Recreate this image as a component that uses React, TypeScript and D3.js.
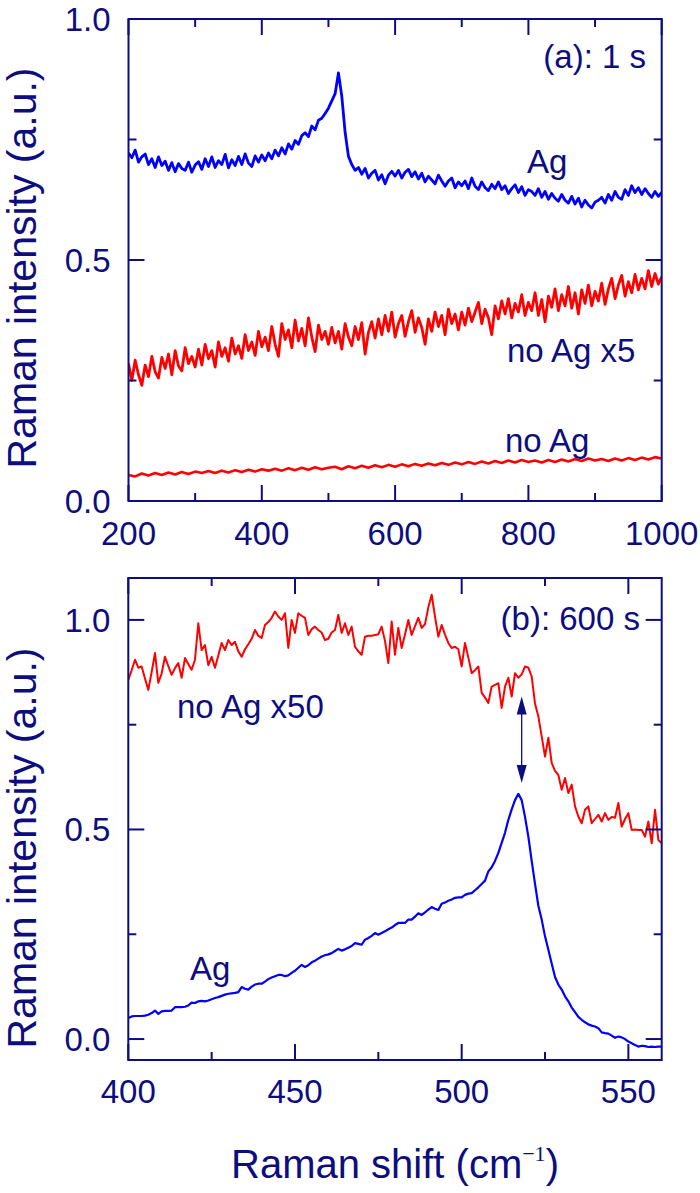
import React from "react";
import * as d3 from "d3";

// ---------- DATA ----------
// Panel (a): 1 s acquisition, Raman shift 200..1000 cm-1
const shiftA = d3.range(200, 1001, 5);
const agA = [
  0.722, 0.712, 0.728, 0.703, 0.714, 0.720, 0.698, 0.710, 0.692, 0.714, 0.696, 0.705, 0.686, 0.702, 0.683, 0.700, 0.690, 0.686, 0.703, 0.682, 0.697,
  0.704, 0.688, 0.710, 0.694, 0.714, 0.692, 0.706, 0.698, 0.719, 0.691, 0.708, 0.696, 0.715, 0.698, 0.720, 0.701, 0.694, 0.716, 0.703, 0.718,
  0.706, 0.722, 0.710, 0.728, 0.716, 0.733, 0.720, 0.741, 0.730, 0.748, 0.740, 0.758, 0.764, 0.756, 0.778, 0.770, 0.790, 0.794, 0.804, 0.815, 0.830,
  0.845, 0.888, 0.840, 0.765, 0.715, 0.698, 0.686,
  0.692, 0.678, 0.690, 0.670, 0.680, 0.686, 0.666, 0.677, 0.658, 0.676, 0.684, 0.674,
  0.686, 0.670, 0.682, 0.688, 0.673, 0.683, 0.668, 0.680, 0.662, 0.674, 0.666, 0.658, 0.676, 0.664, 0.653, 0.664, 0.670, 0.650, 0.662, 0.654,
  0.664, 0.648, 0.670, 0.653, 0.646, 0.662, 0.650, 0.644, 0.657, 0.648, 0.662, 0.646, 0.654, 0.638, 0.648, 0.656, 0.640, 0.652, 0.634, 0.646,
  0.642, 0.634, 0.648, 0.630, 0.642, 0.626, 0.638, 0.628, 0.622, 0.636, 0.624, 0.618, 0.632, 0.616, 0.628, 0.610, 0.624, 0.614, 0.608, 0.620,
  0.624, 0.630, 0.618, 0.636, 0.624, 0.642, 0.630, 0.626, 0.646, 0.634, 0.654, 0.640, 0.650, 0.636, 0.648, 0.638, 0.630, 0.642, 0.632, 0.640,
];
const noAgX5A = [
  0.285, 0.250, 0.292, 0.262, 0.240, 0.282, 0.258, 0.300, 0.268, 0.255, 0.298, 0.275, 0.305, 0.262, 0.312, 0.280, 0.270, 0.318, 0.285, 0.300, 0.278,
  0.315, 0.282, 0.325, 0.295, 0.312, 0.278, 0.330, 0.300, 0.318, 0.290, 0.338, 0.305, 0.322, 0.296, 0.345, 0.312, 0.330, 0.302, 0.352, 0.320,
  0.340, 0.312, 0.362, 0.325, 0.300, 0.368, 0.335, 0.355, 0.318, 0.375, 0.332, 0.358, 0.322, 0.380, 0.340, 0.310, 0.365, 0.335, 0.352, 0.325,
  0.360, 0.328, 0.352, 0.315, 0.368, 0.340, 0.322, 0.362, 0.335, 0.370, 0.305, 0.350, 0.372, 0.338, 0.378, 0.345, 0.385, 0.352, 0.392, 0.340,
  0.368, 0.385, 0.342, 0.372, 0.395, 0.350, 0.380, 0.360, 0.325, 0.378, 0.352, 0.392, 0.362, 0.385, 0.345, 0.398, 0.368, 0.388, 0.355, 0.392,
  0.365, 0.400, 0.372, 0.392, 0.412, 0.368, 0.398, 0.380, 0.345, 0.405, 0.378, 0.415, 0.388, 0.420, 0.380, 0.410, 0.392, 0.428, 0.385, 0.412,
  0.395, 0.432, 0.385, 0.418, 0.372, 0.425, 0.402, 0.440, 0.395, 0.428, 0.405, 0.445, 0.400, 0.432, 0.388, 0.438, 0.410, 0.448, 0.405, 0.435,
  0.415, 0.452, 0.408, 0.440, 0.462, 0.420, 0.448, 0.468, 0.425, 0.455, 0.432, 0.470, 0.438, 0.462, 0.440, 0.478, 0.445, 0.472, 0.450, 0.465,
];
const shiftNoAgA = d3.range(200, 1001, 10);
const noAgA = [
  0.054, 0.051, 0.057, 0.053, 0.058, 0.054, 0.059, 0.055, 0.060, 0.056, 0.061,
  0.058, 0.062, 0.058, 0.063, 0.059, 0.064, 0.060, 0.065, 0.061, 0.066,
  0.063, 0.067, 0.063, 0.068, 0.064, 0.069, 0.065, 0.070, 0.066, 0.069,
  0.071, 0.066, 0.072, 0.068, 0.073, 0.069, 0.074, 0.070, 0.075, 0.071,
  0.076, 0.072, 0.077, 0.073, 0.078, 0.074, 0.079, 0.075, 0.080, 0.076,
  0.081, 0.077, 0.082, 0.078, 0.083, 0.079, 0.084, 0.080, 0.085, 0.081,
  0.084, 0.080, 0.085, 0.081, 0.086, 0.082, 0.087, 0.083, 0.088, 0.084,
  0.087, 0.083, 0.088, 0.084, 0.089, 0.085, 0.090, 0.086, 0.091, 0.088,
];

// Panel (b): 600 s acquisition, Raman shift 400..560 cm-1
const shiftB = d3.range(400, 561, 1);
const noAgX50B = [
  0.857, 0.880, 0.905, 0.886, 0.889, 0.860, 0.833, 0.875, 0.921, 0.850,
  0.872, 0.912, 0.890, 0.869, 0.885, 0.897, 0.862, 0.909, 0.895, 0.881,
  0.905, 0.992, 0.928, 0.940, 0.892, 0.912, 0.886, 0.915, 0.945, 0.928,
  0.952, 0.940, 0.948, 0.925, 0.912, 0.930, 0.942, 0.955, 0.976, 0.962,
  0.957, 0.988, 0.995, 1.005, 1.020, 1.008, 1.000, 1.016, 0.933, 1.000,
  0.969, 1.016, 1.010, 1.005, 0.964, 0.978, 0.984, 0.976, 0.970, 0.952,
  0.955, 0.970, 0.976, 1.012, 0.969, 0.992, 0.964, 0.984, 0.936, 0.925,
  0.917, 0.960, 0.962, 0.962, 0.964, 0.966, 0.984, 0.950, 0.897, 0.996,
  0.917, 0.981, 0.933, 0.965, 1.000, 0.964, 0.985, 1.005, 0.981, 0.990,
  1.030, 1.060, 1.008, 0.960, 0.988, 0.965, 0.945, 0.933, 0.936, 0.930,
  0.889, 0.945, 0.910, 0.873, 0.880, 0.889, 0.826, 0.815, 0.802, 0.841,
  0.845, 0.849, 0.790, 0.841, 0.862, 0.817, 0.873, 0.862, 0.870, 0.889,
  0.886, 0.865, 0.800, 0.770, 0.722, 0.674, 0.719, 0.659, 0.640, 0.630,
  0.595, 0.623, 0.587, 0.607, 0.555, 0.531, 0.515, 0.547, 0.555, 0.515,
  0.525, 0.535, 0.519, 0.539, 0.523, 0.530, 0.528, 0.563, 0.507, 0.525,
  0.539, 0.499, 0.500, 0.499, 0.499, 0.483, 0.519, 0.467, 0.547, 0.475,
  0.467,
];
const agB = [
  0.050, 0.054, 0.055, 0.055, 0.055, 0.056, 0.058, 0.062, 0.068, 0.060,
  0.066, 0.067, 0.067, 0.068, 0.076, 0.076, 0.076, 0.077, 0.080, 0.087,
  0.086, 0.090, 0.091, 0.090, 0.092, 0.095, 0.098, 0.100, 0.103, 0.106,
  0.108, 0.109, 0.110, 0.112, 0.124, 0.120, 0.118, 0.125, 0.130, 0.132,
  0.132, 0.137, 0.143, 0.147, 0.150, 0.153, 0.153, 0.150, 0.152, 0.158,
  0.163, 0.170, 0.177, 0.172, 0.176, 0.183, 0.187, 0.192, 0.197, 0.200,
  0.202, 0.205, 0.210, 0.215, 0.211, 0.214, 0.218, 0.222, 0.229, 0.227,
  0.225, 0.237, 0.241, 0.246, 0.253, 0.249, 0.253, 0.257, 0.262, 0.266,
  0.272, 0.277, 0.277, 0.277, 0.285, 0.285, 0.292, 0.300, 0.296, 0.302,
  0.309, 0.315, 0.311, 0.308, 0.323, 0.326, 0.330, 0.333, 0.337, 0.338,
  0.338, 0.344, 0.347, 0.348, 0.355, 0.362, 0.370, 0.378, 0.400, 0.410,
  0.425, 0.444, 0.468, 0.492, 0.523, 0.548, 0.570, 0.585, 0.570, 0.530,
  0.483, 0.425, 0.370, 0.318, 0.285, 0.245, 0.213, 0.180, 0.148, 0.130,
  0.118, 0.102, 0.090, 0.075, 0.064, 0.053, 0.046, 0.040, 0.035, 0.032,
  0.030, 0.026, 0.016, 0.014, 0.013, 0.008, 0.003, 0.006, 0.004, 0.000,
  -0.006, -0.010, -0.014, -0.018, -0.016, -0.017, -0.019, -0.018, -0.019, -0.018,
  -0.018,
];

// Ticks
const xMajorA = [200, 400, 600, 800, 1000];
const xMinorA = [300, 500, 700, 900];
const yMajorA = [0, 0.5, 1.0];
const yMinorA = [0.25, 0.75];
const xMajorB = [400, 450, 500, 550];
const xMinorB = [425, 475, 525];
const yMajorB = [0, 0.5, 1.0];
const yMinorB = [0.25, 0.75];

// Arrow marking the peak (panel b)
const arrowShift = 518;
const arrowTop = 0.817;
const arrowBottom = 0.611;

// ---------- STYLE ----------
const NAVY = "#0d0d80";
const BLUE = "#0000ff";
const RED = "#ff0000";
const FONT = "'Liberation Sans', Arial, Helvetica, sans-serif";

type Pt = [number, number];
const zip = (xs: number[], ys: number[]): Pt[] =>
  ys.slice(0, Math.min(xs.length, ys.length)).map((v, i) => [xs[i], v] as Pt);

function Frame({ x, y, xMajor, xMinor, yMajor, yMinor, labelDy }: any) {
  const [x0, x1] = x.range();
  const [y0, y1] = y.range(); // y0 bottom, y1 top
  const MAJ = 16;
  const MIN = 8;
  const fmtY = d3.format(".1f");
  return (
    <g>
      {xMajor.map((t: number) => (
        <g key={"xM" + t}>
          <line x1={x(t)} x2={x(t)} y1={y0} y2={y0 - MAJ} stroke={NAVY} strokeWidth={2} />
          <line x1={x(t)} x2={x(t)} y1={y1} y2={y1 + MAJ} stroke={NAVY} strokeWidth={2} />
          <text x={x(t)} y={y0 + labelDy} textAnchor="middle" fontSize={33} fill={NAVY} fontFamily={FONT}>
            {String(t)}
          </text>
        </g>
      ))}
      {xMinor.map((t: number) => (
        <g key={"xm" + t}>
          <line x1={x(t)} x2={x(t)} y1={y0} y2={y0 - MIN} stroke={NAVY} strokeWidth={2} />
          <line x1={x(t)} x2={x(t)} y1={y1} y2={y1 + MIN} stroke={NAVY} strokeWidth={2} />
        </g>
      ))}
      {yMajor.map((t: number) => (
        <g key={"yM" + t}>
          <line x1={x0} x2={x0 + MAJ} y1={y(t)} y2={y(t)} stroke={NAVY} strokeWidth={2} />
          <line x1={x1} x2={x1 - MAJ} y1={y(t)} y2={y(t)} stroke={NAVY} strokeWidth={2} />
          <text x={x0 - 18} y={y(t)} dy="0.36em" textAnchor="end" fontSize={33} fill={NAVY} fontFamily={FONT}>
            {fmtY(t)}
          </text>
        </g>
      ))}
      {yMinor.map((t: number) => (
        <g key={"ym" + t}>
          <line x1={x0} x2={x0 + MIN} y1={y(t)} y2={y(t)} stroke={NAVY} strokeWidth={2} />
          <line x1={x1} x2={x1 - MIN} y1={y(t)} y2={y(t)} stroke={NAVY} strokeWidth={2} />
        </g>
      ))}
      <rect x={x0} y={y1} width={x1 - x0} height={y0 - y1} fill="none" stroke={NAVY} strokeWidth={2} />
    </g>
  );
}

export default function App() {
  const W = 700;
  const H = 1193;

  // Panel (a)
  const xA = d3.scaleLinear().domain([200, 1000]).range([128.5, 661.7]);
  const yA = d3.scaleLinear().domain([0, 1]).range([501, 19]);
  const lineA = d3.line<Pt>().x((d) => xA(d[0])).y((d) => yA(d[1]));

  // Panel (b)
  const xB = d3.scaleLinear().domain([400, 560]).range([128.3, 661.7]);
  const yB = d3.scaleLinear().domain([-0.05, 1.1]).range([1060, 578]);
  const lineB = d3.line<Pt>().x((d) => xB(d[0])).y((d) => yB(d[1]));

  const ax = xB(arrowShift);
  const aTop = yB(arrowTop);
  const aBot = yB(arrowBottom);
  const HL = 18;
  const HW = 5;

  return (
    <svg
      width={W}
      height={H}
      viewBox={`0 0 ${W} ${H}`}
      style={{ position: "absolute", left: 0, top: 0, background: "#fff" }}
      fontFamily={FONT}
    >
      <defs>
        <clipPath id="clipA">
          <rect x={128.5} y={19} width={661.7 - 128.5} height={501 - 19} />
        </clipPath>
        <clipPath id="clipB">
          <rect x={128.3} y={578} width={661.7 - 128.3} height={1060 - 578} />
        </clipPath>
      </defs>
      <rect x={0} y={0} width={W} height={H} fill="#fff" />

      {/* Panel (a) data */}
      <g clipPath="url(#clipA)">
        <path d={lineA(zip(shiftNoAgA, noAgA)) || ""} fill="none" stroke={RED} strokeWidth={2.6} strokeLinejoin="round" />
        <path d={lineA(zip(shiftA, noAgX5A)) || ""} fill="none" stroke={RED} strokeWidth={2.8} strokeLinejoin="round" />
        <path d={lineA(zip(shiftA, agA)) || ""} fill="none" stroke={BLUE} strokeWidth={2.8} strokeLinejoin="round" />
      </g>
      <Frame x={xA} y={yA} xMajor={xMajorA} xMinor={xMinorA} yMajor={yMajorA} yMinor={yMinorA} labelDy={44} />
      <text x={646} y={68} textAnchor="end" fontSize={33} fill={NAVY}>(a): 1 s</text>
      <text x={527} y={173} fontSize={33} fill={NAVY}>Ag</text>
      <text x={507} y={362} fontSize={33} fill={NAVY}>no Ag x5</text>
      <text x={505} y={452} fontSize={33} fill={NAVY}>no Ag</text>

      {/* Panel (b) data */}
      <g clipPath="url(#clipB)">
        <path d={lineB(zip(shiftB, noAgX50B)) || ""} fill="none" stroke={RED} strokeWidth={2} strokeLinejoin="round" />
        <path d={lineB(zip(shiftB, agB)) || ""} fill="none" stroke={BLUE} strokeWidth={2.2} strokeLinejoin="round" />
      </g>
      <Frame x={xB} y={yB} xMajor={xMajorB} xMinor={xMinorB} yMajor={yMajorB} yMinor={yMinorB} labelDy={43} />
      <text x={640} y={630} textAnchor="end" fontSize={33} fill={NAVY}>(b): 600 s</text>
      <text x={177} y={718} fontSize={33} fill={NAVY}>no Ag x50</text>
      <text x={190} y={980} fontSize={33} fill={NAVY}>Ag</text>

      {/* double arrow */}
      <line x1={ax} x2={ax} y1={aTop + HL - 2} y2={aBot - HL + 2} stroke={NAVY} strokeWidth={1.3} />
      <path d={`M${ax},${aTop} L${ax - HW},${aTop + HL} L${ax + HW},${aTop + HL} Z`} fill={NAVY} />
      <path d={`M${ax},${aBot} L${ax - HW},${aBot - HL} L${ax + HW},${aBot - HL} Z`} fill={NAVY} />

      {/* axis titles */}
      <text transform="translate(36,268) rotate(-90)" textAnchor="middle" fontSize={41} fill={NAVY}>
        Raman intensity (a.u.)
      </text>
      <text transform="translate(36,848) rotate(-90)" textAnchor="middle" fontSize={41} fill={NAVY}>
        Raman intensity (a.u.)
      </text>
      <text x={395} y={1178} textAnchor="middle" fontSize={40} fill={NAVY}>
        Raman shift (cm
        <tspan fontFamily="'Liberation Serif', 'Times New Roman', serif" fontSize={22} dy={-17}>
          −1
        </tspan>
        <tspan dy={17}>)</tspan>
      </text>
    </svg>
  );
}
